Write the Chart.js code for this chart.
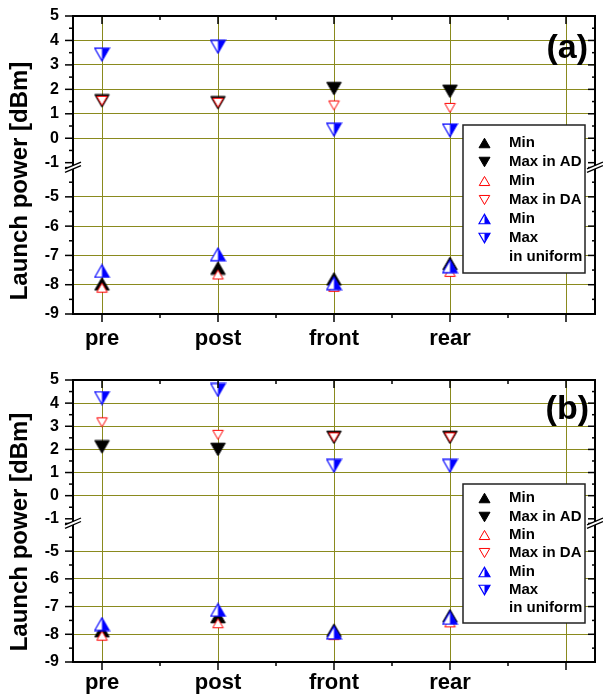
<!DOCTYPE html>
<html lang="en">
<head>
    <meta charset="UTF-8">
    <title>Launch power</title>
    <script src="https://cdn.jsdelivr.net/npm/chart.js"></script>
    <style>
        body { margin: 0; background: #fff; }
        canvas { display: block; }
    </style>
</head>
<body>
    <canvas id="chartA" width="603" height="350"></canvas>
    <canvas id="chartB" width="603" height="350"></canvas>

    <script>
        // categories on the x axis (the 5th slot is an empty column)
        const categories = ['pre', 'post', 'front', 'rear', ''];
        const catPos = [1, 2, 3, 4, 5];
        const upperTicks = [5, 4, 3, 2, 1, 0, -1];
        const lowerTicks = [-5, -6, -7, -8, -9];

        // panel (a)
        const minAD_a  = [-7.97, -7.43, -7.80, -7.27];
        const maxAD_a  = [1.53, 1.45, 2.03, 1.92];
        const minDA_a  = [-8.10, -7.65, -8.07, -7.56];
        const maxDA_a  = [1.53, 1.45, 1.34, 1.24];
        const minUni_a = [-7.53, -6.96, -7.95, -7.37];
        const maxUni_a = [3.42, 3.74, 0.35, 0.32];

        // panel (b)
        const minAD_b  = [-7.87, -7.36, -7.85, -7.33];
        const maxAD_b  = [2.11, 2.00, 2.52, 2.52];
        const minDA_b  = [-8.05, -7.60, -8.03, -7.57];
        const maxDA_b  = [3.17, 2.63, 2.52, 2.52];
        const minUni_b = [-7.63, -7.12, -7.94, -7.41];
        const maxUni_b = [4.22, 4.57, 1.29, 1.29];

        const FONT = 'Liberation Sans';
        const gridColor = '#8a8a1e';

        // triangle markers drawn on a small canvas
        function tri(up, side, fill, stroke, half, lw) {
            const h = side * Math.sqrt(3) / 2;
            const c = document.createElement('canvas');
            c.width = Math.ceil(side + 2);
            c.height = Math.ceil(h + 2);
            const g = c.getContext('2d');
            const ox = (c.width - side) / 2, oy = (c.height - h) / 2;
            const pts = up
                ? [[ox + side / 2, oy], [ox + side, oy + h], [ox, oy + h]]
                : [[ox, oy], [ox + side, oy], [ox + side / 2, oy + h]];
            const path = () => {
                g.beginPath();
                g.moveTo(pts[0][0], pts[0][1]);
                g.lineTo(pts[1][0], pts[1][1]);
                g.lineTo(pts[2][0], pts[2][1]);
                g.closePath();
            };
            path();
            g.fillStyle = fill;
            g.fill();
            if (half) {
                g.save();
                path();
                g.clip();
                g.fillStyle = stroke;
                g.fillRect(c.width / 2, 0, c.width, c.height);
                g.restore();
            }
            path();
            g.lineWidth = lw;
            g.strokeStyle = stroke;
            g.stroke();
            return c;
        }

        const markers = {
            blackUp: tri(true, 14.5, '#000', '#000', false, 1),
            blackDown: tri(false, 14.5, '#000', '#000', false, 1),
            redUp: tri(true, 10.5, '#fff', '#f00', false, 1),
            redDown: tri(false, 10.5, '#fff', '#f00', false, 1),
            blueUp: tri(true, 14.5, '#fff', '#00f', true, 1.2),
            blueDown: tri(false, 14.5, '#fff', '#00f', true, 1.2)
        };
        const legendMarkers = {
            blackUp: tri(true, 11, '#000', '#000', false, 1),
            blackDown: tri(false, 11, '#000', '#000', false, 1),
            redUp: tri(true, 10.5, '#fff', '#f00', false, 1),
            redDown: tri(false, 10.5, '#fff', '#f00', false, 1),
            blueUp: tri(true, 11, '#fff', '#00f', true, 1.2),
            blueDown: tri(false, 11, '#fff', '#00f', true, 1.2)
        };

        const seriesDefs = [
            { key: 'minAD', label: 'Min', marker: 'blackUp', axis: 'yBot', order: 3 },
            { key: 'maxAD', label: 'Max in AD', marker: 'blackDown', axis: 'yTop', order: 3 },
            { key: 'minDA', label: 'Min', marker: 'redUp', axis: 'yBot', order: 2 },
            { key: 'maxDA', label: 'Max in DA', marker: 'redDown', axis: 'yTop', order: 2 },
            { key: 'minUni', label: 'Min', marker: 'blueUp', axis: 'yBot', order: 1 },
            { key: 'maxUni', label: 'Max', marker: 'blueDown', axis: 'yTop', order: 1 }
        ];

        // frame, ticks, axis breaks, legend, panel tag and y title
        const decor = {
            id: 'decor',
            afterDatasetsDraw(chart, args, opts) {
                const ctx = chart.ctx;
                const a = chart.chartArea;
                const xs = chart.scales.x, yt = chart.scales.yTop, yb = chart.scales.yBot;
                const line = (x1, y1, x2, y2) => {
                    ctx.beginPath(); ctx.moveTo(x1, y1); ctx.lineTo(x2, y2); ctx.stroke();
                };
                ctx.save();
                ctx.strokeStyle = '#000';
                ctx.lineWidth = 1.5;

                // x ticks: top inward, bottom outward
                for (let v = 1; v <= 5; v += 0.5) {
                    const px = xs.getPixelForValue(v);
                    const len = v % 1 === 0 ? 8 : 4;
                    line(px, a.top, px, a.top + len);
                    line(px, a.bottom, px, a.bottom + len);
                }
                // y ticks: left outward, right inward
                [yt, yb].forEach(ax => {
                    for (let v = Math.ceil(ax.min * 2) / 2; v <= ax.max; v += 0.5) {
                        const py = ax.getPixelForValue(v);
                        const len = v % 1 === 0 ? 8 : 4;
                        line(a.left - len, py, a.left, py);
                        line(a.right - len + 1, py, a.right, py);
                    }
                });

                // frame
                ctx.lineWidth = 2;
                ctx.strokeRect(a.left, a.top, a.right - a.left, a.bottom - a.top);

                // axis break marks
                const by = yt.bottom - 2;
                [a.left, a.right].forEach(bx => {
                    ctx.fillStyle = '#fff';
                    ctx.beginPath();
                    ctx.moveTo(bx - 7, by + 3);
                    ctx.lineTo(bx + 7, by - 3);
                    ctx.lineTo(bx + 7, by + 0.5);
                    ctx.lineTo(bx - 7, by + 6.5);
                    ctx.closePath();
                    ctx.fill();
                    ctx.lineWidth = 1.3;
                    line(bx - 8, by + 3.4, bx + 8, by - 3.4);
                    line(bx - 8, by + 6.9, bx + 8, by + 0.1);
                });

                // legend
                const L = opts.legend;
                ctx.fillStyle = '#fff';
                ctx.fillRect(L.x, L.y, L.w, L.h);
                ctx.lineWidth = 1.5;
                ctx.strokeStyle = '#222';
                ctx.strokeRect(L.x, L.y, L.w, L.h);
                ctx.fillStyle = '#000';
                ctx.font = 'bold 15px "' + FONT + '"';
                ctx.textAlign = 'left';
                ctx.textBaseline = 'middle';
                const rows = chart.data.datasets.map(d => ({ img: d.legendStyle, text: d.label }));
                rows.push({ img: null, text: 'in uniform' });
                rows.forEach((r, i) => {
                    const ry = L.y + L.row0 + i * L.rowH;
                    if (r.img) {
                        ctx.drawImage(r.img, Math.round(L.x + 21 - r.img.width / 2), Math.round(ry - r.img.height / 2));
                    }
                    ctx.fillText(r.text, L.x + 46, ry);
                });

                // panel tag
                ctx.font = 'bold 34px "' + FONT + '"';
                ctx.textAlign = 'right';
                ctx.fillText(opts.tag, opts.tagX, opts.tagY);

                // y axis title
                ctx.translate(opts.titleX, opts.titleY);
                ctx.rotate(-Math.PI / 2);
                ctx.font = 'bold 24px "' + FONT + '"';
                ctx.textAlign = 'center';
                ctx.textBaseline = 'alphabetic';
                ctx.fillText('Launch power [dBm]', 0, 0);
                ctx.restore();
            }
        };

        function yScale(min, max, weight, tickVals, hidden) {
            return {
                type: 'linear',
                position: 'left',
                stack: 'y',
                stackWeight: weight,
                min: min,
                max: max,
                afterBuildTicks: ax => { ax.ticks = tickVals.map(v => ({ value: v })); },
                afterFit: ax => {
                    ax.width = 73;
                    // let the end labels hang over the padding
                    ax.paddingTop = 0;
                    ax.paddingBottom = 0;
                },
                ticks: {
                    callback: v => String(v),
                    font: { family: FONT, size: 16, weight: 'bold' },
                    color: '#000',
                    padding: 14,
                    autoSkip: false
                },
                grid: {
                    drawTicks: false,
                    color: c => (c.tick && hidden.includes(c.tick.value)) ? 'rgba(0,0,0,0)' : gridColor
                },
                border: { display: false }
            };
        }

        function makeChart(id, vals, cfg) {
            const datasets = seriesDefs.map(s => ({
                label: s.label,
                data: vals[s.key].map((v, i) => ({ x: catPos[i], y: v })),
                yAxisID: s.axis,
                pointStyle: markers[s.marker],
                legendStyle: legendMarkers[s.marker],
                pointRadius: 7,
                pointHoverRadius: 7,
                showLine: false,
                order: s.order
            }));

            return new Chart(document.getElementById(id), {
                type: 'scatter',
                data: { datasets: datasets },
                options: {
                    responsive: false,
                    animation: false,
                    layout: { padding: { top: cfg.top, right: 6, left: 0, bottom: 0 } },
                    plugins: {
                        legend: { display: false },
                        tooltip: { enabled: false },
                        decor: cfg
                    },
                    scales: {
                        x: {
                            type: 'linear',
                            min: 0.75,
                            max: 5.25,
                            afterBuildTicks: ax => { ax.ticks = catPos.map(v => ({ value: v })); },
                            afterFit: ax => { ax.height = cfg.xAxisH; },
                            ticks: {
                                callback: v => categories[catPos.indexOf(v)],
                                font: { family: FONT, size: 22, weight: 'bold' },
                                color: '#000',
                                padding: cfg.xPad,
                                autoSkip: false,
                                maxRotation: 0
                            },
                            grid: { drawTicks: false, color: gridColor },
                            border: { display: false }
                        },
                        // the stack on the left is laid out in reverse order
                        yBot: yScale(-9, -4, 1, lowerTicks, [-9]),
                        yTop: yScale(-1.2, 5, 1.035, upperTicks, [5, -1])
                    }
                },
                plugins: [decor]
            });
        }

        makeChart('chartA',
            { minAD: minAD_a, maxAD: maxAD_a, minDA: minDA_a, maxDA: maxDA_a, minUni: minUni_a, maxUni: maxUni_a },
            {
                top: 16, xAxisH: 36, xPad: 12,
                tag: '(a)', tagX: 588, tagY: 49,
                titleX: 27, titleY: 181,
                legend: { x: 463, y: 125, w: 122, h: 148, row0: 17.7, rowH: 19 }
            });

        makeChart('chartB',
            { minAD: minAD_b, maxAD: maxAD_b, minDA: minDA_b, maxDA: maxDA_b, minUni: minUni_b, maxUni: maxUni_b },
            {
                top: 30, xAxisH: 38, xPad: 8,
                tag: '(b)', tagX: 589, tagY: 60,
                titleX: 27, titleY: 182,
                legend: { x: 463, y: 134, w: 122, h: 139, row0: 14.3, rowH: 18.3 }
            });
    </script>
</body>
</html>
